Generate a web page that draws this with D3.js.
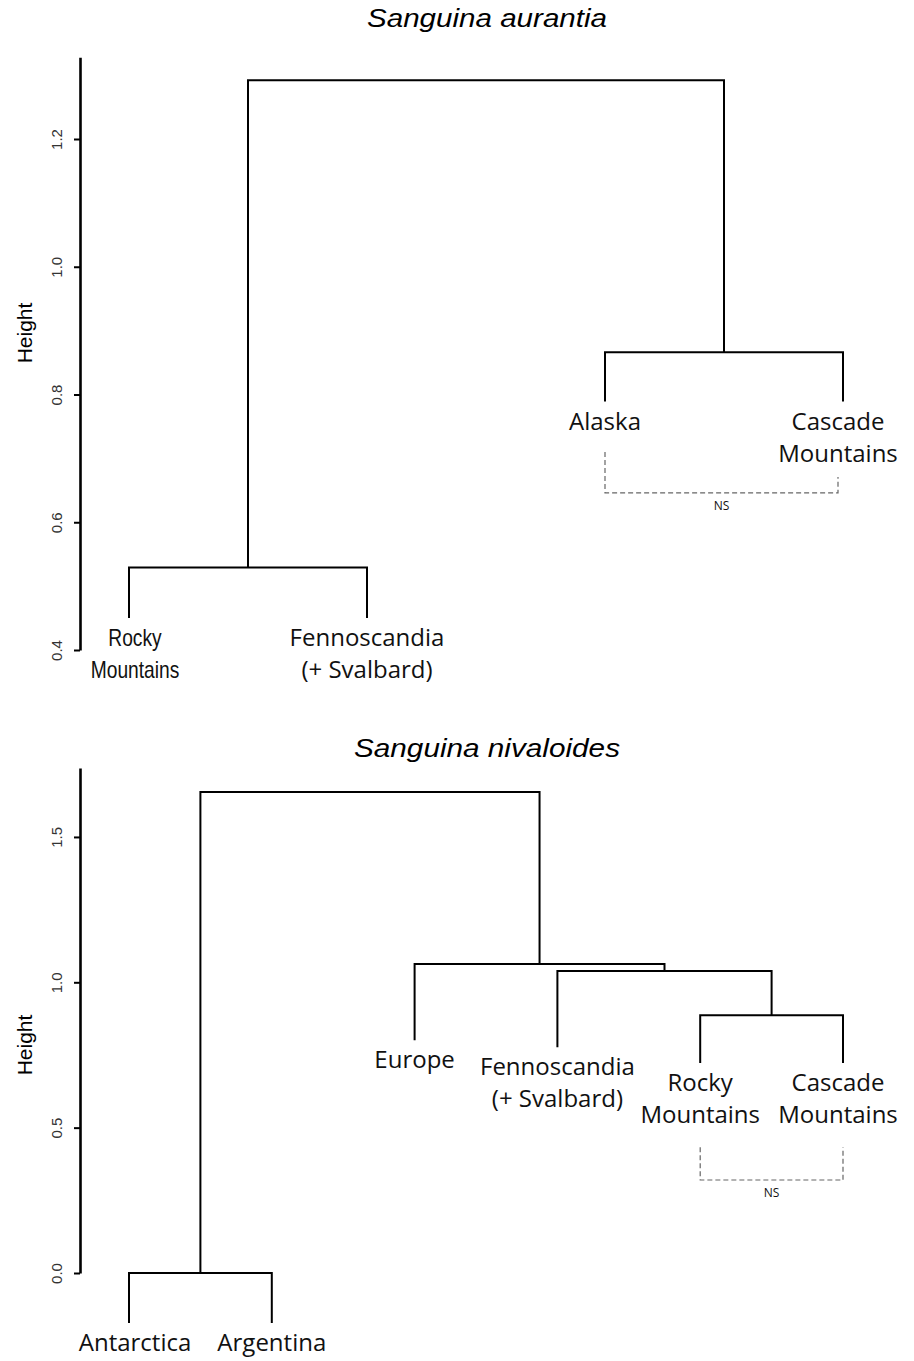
<!DOCTYPE html>
<html>
<head>
<meta charset="utf-8">
<script src="https://cdn.jsdelivr.net/npm/d3@7"></script>
<style>
  html, body { margin: 0; padding: 0; background: #fff; }
  svg { display: block; }
  .title { font-family: "Liberation Sans", Arial, sans-serif; font-style: italic; }
  .ylab { font-family: "Liberation Sans", Arial, sans-serif; }
  .tick text { font-family: "Liberation Sans", Arial, sans-serif; fill: #333; }
  .leaf { font-family: "Open Sans", "Noto Sans", sans-serif; fill: #111; }
  .leaf.narrow { font-family: "Liberation Sans", Arial, sans-serif; }
</style>
</head>
<body>
<script>
// ---- data: Sanguina aurantia ----
const auLeaves = ["Rocky\nMountains", "Fennoscandia\n(+ Svalbard)", "Alaska", "Cascade\nMountains"];
const auLeafEnds = [0.450, 0.450, 0.789, 0.789];
// R-style merge matrix: negative = leaf (1-based), positive = earlier merge row
const auMerge = [[-1, -2], [-3, -4], [1, 2]];
const auHeights = [0.529, 0.866, 1.292];
const auTicks = [0.4, 0.6, 0.8, 1.0, 1.2];
const auAxisTop = 1.328;
const auNS = { leaves: [3, 4], from: [0.710, 0.671], to: 0.646 };

// ---- data: Sanguina nivaloides ----
const nvLeaves = ["Antarctica", "Argentina", "Europe", "Fennoscandia\n(+ Svalbard)", "Rocky\nMountains", "Cascade\nMountains"];
const nvLeafEnds = [-0.172, -0.172, 0.801, 0.777, 0.722, 0.722];
const nvMerge = [[-1, -2], [-5, -6], [-4, 2], [-3, 3], [1, 4]];
const nvHeights = [0.0, 0.887, 1.039, 1.063, 1.655];
const nvTicks = [0.0, 0.5, 1.0, 1.5];
const nvAxisTop = 1.737;
const nvNS = { leaves: [5, 6], from: [0.433, 0.433], to: 0.320 };

const W = 914, H = 1361;
const svg = d3.select("body").append("svg").attr("width", W).attr("height", H);

function panel(opt) {
  const g = svg.append("g");
  const x = d3.scalePoint().domain(d3.range(opt.leaves.length)).range([129, 843]);
  const y = d3.scaleLinear().domain(opt.domain).range(opt.range);

  // title
  g.append("text").attr("class", "title")
    .attr("x", 487).attr("y", opt.titleY)
    .attr("text-anchor", "middle").attr("font-size", 26)
    .attr("textLength", opt.titleLen).attr("lengthAdjust", "spacingAndGlyphs")
    .text(opt.title);

  // y axis
  const ax = g.append("g").attr("transform", "translate(80,0)")
    .call(d3.axisLeft(y).tickValues(opt.ticks).tickSize(6).tickSizeOuter(0).tickPadding(0)
      .tickFormat(d3.format(".1f")));
  ax.select(".domain").attr("stroke-width", 2.6);
  ax.selectAll(".tick line").attr("stroke-width", 2);
  ax.selectAll(".tick text")
    .attr("font-size", 15).attr("text-anchor", "middle")
    .attr("transform", "translate(-23,0) rotate(-90)")
    .attr("x", 0).attr("dy", "0.35em");

  g.append("text").attr("class", "ylab")
    .attr("transform", `translate(${opt.ylabX},${opt.ylabY}) rotate(-90)`)
    .attr("text-anchor", "middle").attr("font-size", 21)
    .text("Height");

  // dendrogram nodes
  const nodeX = [];
  const childX = c => c < 0 ? x(-c - 1) : nodeX[c - 1];
  const childTop = c => c < 0 ? opt.leafEnds[-c - 1] : opt.heights[c - 1];
  const segs = [];
  opt.merge.forEach((m, i) => {
    const h = opt.heights[i];
    const [a, b] = m;
    const xa = childX(a), xb = childX(b);
    nodeX.push((xa + xb) / 2);
    segs.push([[xa, y(childTop(a))], [xa, y(h)], [xb, y(h)], [xb, y(childTop(b))]]);
  });
  g.append("g").selectAll("path").data(segs).join("path")
    .attr("d", d3.line())
    .attr("fill", "none").attr("stroke", "#000").attr("stroke-width", 2);

  // leaf labels
  opt.leaves.forEach((lab, i) => {
    const lines = lab.split("\n");
    const narrow = opt.narrow && opt.narrow.includes(i);
    const cx = i === 0 ? x(i) + 6 : Math.min(x(i), W - 14 - 62);
    const t = g.append("text").attr("class", "leaf" + (narrow ? " narrow" : ""))
      .attr("text-anchor", "middle").attr("font-size", 24)
      .attr("transform", `translate(${cx},0)` + (narrow ? " scale(0.8,1)" : ""));
    lines.forEach((s, k) => {
      t.append("tspan").attr("x", 0)
        .attr("y", y(opt.leafEnds[i]) + 28 + k * 32).text(s);
    });
  });

  // NS bracket
  const ns = opt.ns;
  const x1 = x(ns.leaves[0] - 1), x2 = x(ns.leaves[1] - 1) - (opt.nsInset || 0);
  g.append("path")
    .attr("d", d3.line()([[x1, y(ns.from[0])], [x1, y(ns.to)], [x2, y(ns.to)], [x2, y(ns.from[1])]]))
    .attr("fill", "none").attr("stroke", "#666").attr("stroke-width", 1.2)
    .attr("stroke-dasharray", "5,3");
  g.append("text").attr("class", "leaf")
    .attr("x", (x1 + x2) / 2).attr("y", y(ns.to) + 17)
    .attr("text-anchor", "middle").attr("font-size", 12)
    .text("NS");
}

panel({
  title: "Sanguina aurantia", titleY: 27, titleLen: 240,
  leaves: auLeaves, leafEnds: auLeafEnds, merge: auMerge, heights: auHeights,
  ticks: auTicks, domain: [0.4, auAxisTop], range: [650, 650 - (auAxisTop - 0.4) * 638.75],
  ns: auNS, nsInset: 5, ylabX: 32, ylabY: 333, narrow: [0]
});
panel({
  title: "Sanguina nivaloides", titleY: 757, titleLen: 266,
  leaves: nvLeaves, leafEnds: nvLeafEnds, merge: nvMerge, heights: nvHeights,
  ticks: nvTicks, domain: [0, nvAxisTop], range: [1273, 1273 - nvAxisTop * 290.7],
  ns: nvNS, ylabX: 32, ylabY: 1045
});
</script>
</body>
</html>
